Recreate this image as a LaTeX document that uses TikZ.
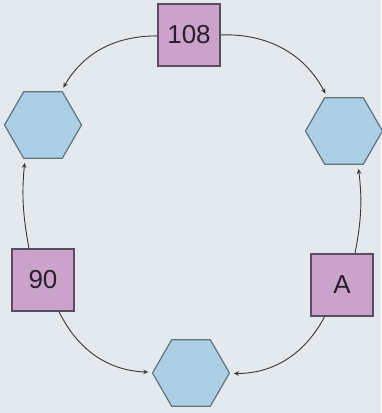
\documentclass[tikz,border=0pt]{standalone}
\usepackage{fontspec}
\setmainfont{Liberation Sans}
\usetikzlibrary{shapes.geometric,arrows.meta}
\definecolor{bg}{RGB}{228,233,237}
\definecolor{sqfill}{RGB}{203,162,201}
\definecolor{sqdraw}{RGB}{92,76,98}
\definecolor{hexfill}{RGB}{172,207,230}
\definecolor{hexdraw}{RGB}{95,115,128}
\definecolor{txt}{RGB}{40,30,45}
\definecolor{link}{RGB}{55,55,60}
\tikzset{
  sq/.style={draw=sqdraw, fill=sqfill, line width=1.2pt, minimum width=62pt, minimum height=62pt, inner sep=0pt, font=\fontsize{26}{30}\selectfont, text=txt},
  hex/.style={regular polygon, regular polygon sides=6, draw=hexdraw, fill=hexfill, line width=1.2pt, minimum size=77pt, inner sep=0pt},
  conn/.style={draw=link, line width=0.9pt, shorten >=4pt, -{Stealth[length=5pt,width=4.5pt]}}
}
\begin{document}
\begin{tikzpicture}[x=1pt,y=1pt]
\fill[bg] (0,0) rectangle (381,413);
\useasboundingbox (0,0) rectangle (381,413);
\node[sq] (n108) at (189,378) {108};
\node[hex] (hTL) at (43,288) {};
\node[hex] (hTR) at (344,282) {};
\node[sq] (n90) at (43,133) {90};
\node[sq] (nA) at (342,128) {A};
\node[hex] (hB) at (191,40) {};
\draw[conn] (n108) to[bend right=30] (hTL);
\draw[conn] (n108) to[bend left=32] (hTR);
\draw[conn] ([xshift=-14pt]n90.north) to[bend left=8] ([xshift=-18pt]hTL.south);
\draw[conn] ([xshift=13pt]nA.north) to[bend right=9] ([xshift=14pt]hTR.south);
\draw[conn] (n90) to[bend right=31] (hB);
\draw[conn] (nA) to[bend left=31] (hB);
\end{tikzpicture}
\end{document}
